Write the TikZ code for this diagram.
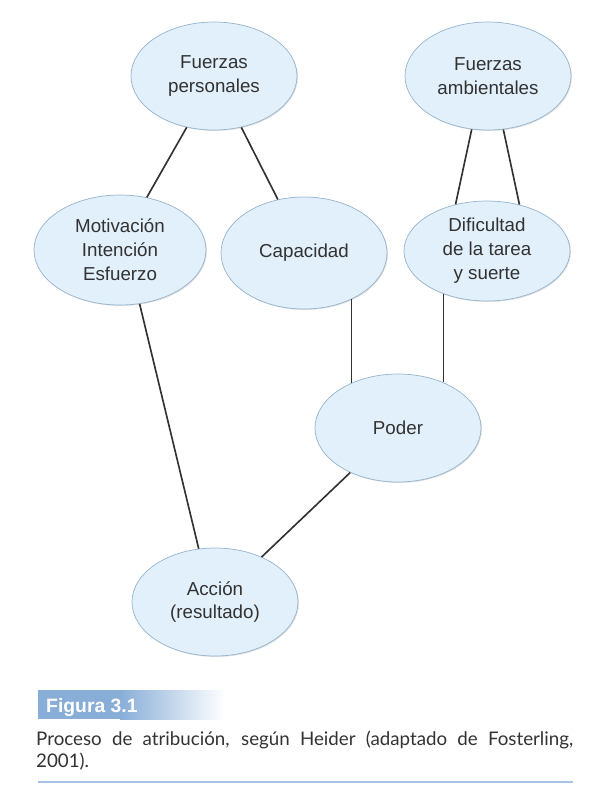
\documentclass[tikz,border=0pt]{standalone}
\usepackage{fontspec}
\setmainfont{Liberation Sans}
\newfontfamily\capfont{Lato}
\usepackage{xcolor}
\usepackage{tikz}
\usetikzlibrary{shapes}
\usetikzlibrary{shadows}

\definecolor{bubblefill}{RGB}{226,240,251}
\definecolor{bubbleline}{RGB}{150,180,205}
\definecolor{linkgray}{RGB}{50,50,50}
\definecolor{textgray}{RGB}{50,50,50}
\definecolor{figblue}{RGB}{136,174,216}
\definecolor{rulebl}{RGB}{165,196,228}

\begin{document}
\begin{tikzpicture}[x=0.03cm, y=-0.03cm,
        bubble/.style={ellipse, draw=bubbleline, line width=0.6pt, fill=bubblefill,
            drop shadow={opacity=0.25, shadow xshift=0.8pt, shadow yshift=-0.8pt},
            minimum width=4.98cm, minimum height=3.24cm, inner sep=0pt,
            align=center, text=textgray, font=\fontsize{16}{20.4}\selectfont},
        link/.style={draw=linkgray, line width=1.4pt}]

        \useasboundingbox (0,0) rectangle (595,802);

        % Draw the bubbles
        \node[bubble] (fp) at (214,76) {Fuerzas\\personales};
        \node[bubble] (fa) at (488,76) {Fuerzas\\ambientales};
        \node[bubble, minimum width=5.16cm, minimum height=3.3cm] (mot) at (120,250) {Motivación\\Intención\\Esfuerzo};
        \node[bubble, minimum height=3.36cm] (capa) at (304,253) {Capacidad};
        \node[bubble, minimum height=3cm] (dif) at (487,251) {Dificultad\\de la tarea\\y suerte};
        \node[bubble] (pod) at (398,428) {Poder};
        \node[bubble] (acc) at (215,602) {Acción\\(resultado)};

        % Draw the lines between the bubbles
        \draw[link] (fp.-118) -- (mot.63);
        \draw[link] (fp.-62) -- (capa.116);
        \draw[link] (fa.-107) -- (dif.124);
        \draw[link] (fa.-74) -- (dif.55);
        \draw[link] (pod.136) -- (pod.136 |- capa.-43);
        \draw[link] (pod.45) -- (pod.45 |- dif.-136);
        \draw[link] (mot.-70) -- (acc.107);
        \draw[link] (pod.-137) -- (acc.44);

        % Caption bar and text
        \fill[figblue] (38,690) rectangle (120,719);
        \shade[left color=figblue, right color=white] (120,690) rectangle (225,719);
        \node[anchor=base west, inner sep=0pt, text=white, font=\bfseries\fontsize{16.5}{16.5}\selectfont] (fig) at (46,712) {Figura 3.1};
        \node[anchor=north west, inner sep=0pt, text width=16.11cm, align=justify, text=textgray,
            font=\capfont\fontsize{16}{18.7}\selectfont] (capt) at (36,731)
            {Proceso de atribución, según Heider (adaptado de Fosterling,\linebreak 2001).};
        \draw[rulebl, line width=1.8pt] (38,782) -- (573,782);
    \end{tikzpicture}
\end{document}
